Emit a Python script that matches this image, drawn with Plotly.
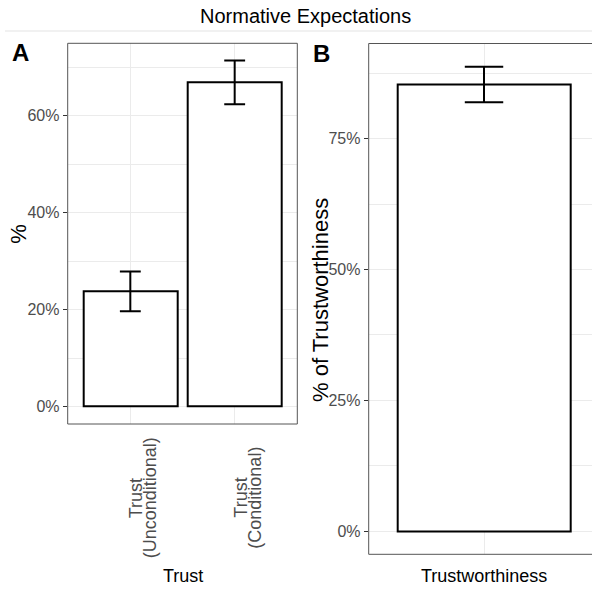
import plotly.graph_objects as go

# Panel A: trust expectations
trust_categories = ["Trust (Unconditional)", "Trust (Conditional)"]
trust_tick_lines = [["Trust", "(Unconditional)"], ["Trust", "(Conditional)"]]
trust_means = [23.8, 66.9]
trust_errors = [4.1, 4.5]
trust_ticks = [0, 20, 40, 60]
trust_minor = [10, 30, 50, 70]

# Panel B: trustworthiness expectations
tw_categories = ["Trustworthiness"]
tw_means = [85.4]
tw_errors = [3.4]
tw_ticks = [0, 25, 50, 75]
tw_minor = [12.5, 37.5, 62.5, 87.5]

W, H = 592, 593
SANS = "Liberation Sans, Arial, sans-serif"
GRID = "#EBEBEB"
BORDER = "#555555"

# panel geometry in pixels
ax_l, ax_r, ax_t, ax_b = 67.7, 297.3, 43.3, 424.0
bx_l, bx_r, bx_t, bx_b = 368.7, 592.0, 43.5, 554.3


def px_x(v):
    return v / W


def px_y(v):
    return 1 - v / H


def y_range(means, errs):
    top = max(m + e for m, e in zip(means, errs))
    return [-0.05 * top, 1.05 * top]


a_xrange = [-0.6, len(trust_categories) - 0.4]
b_unit_px = 192.2
b_xrange = [-0.6, -0.6 + (bx_r - bx_l) / b_unit_px]
a_unit_px = (ax_r - ax_l) / (a_xrange[1] - a_xrange[0])

fig = go.Figure()

fig.add_trace(go.Bar(
    x=trust_categories, y=trust_means, width=0.9,
    marker=dict(color="white", line=dict(color="black", width=2)),
    error_y=dict(type="data", array=trust_errors, color="black",
                 thickness=2, width=0.1 * a_unit_px),
    xaxis="x", yaxis="y", showlegend=False,
))

fig.add_trace(go.Bar(
    x=tw_categories, y=tw_means, width=0.9,
    marker=dict(color="white", line=dict(color="black", width=2)),
    error_y=dict(type="data", array=tw_errors, color="black",
                 thickness=2, width=0.1 * b_unit_px),
    xaxis="x2", yaxis="y2", showlegend=False,
))

tick_font = dict(family=SANS, size=16, color="#4D4D4D")


def yaxis_style(domain, rng, ticks, minor, anchor):
    return dict(
        domain=domain, range=rng, anchor=anchor,
        tickvals=ticks, ticktext=[f"{t}%" for t in ticks],
        ticks="outside", ticklen=4, tickwidth=1, tickcolor="#333333",
        tickfont=tick_font, showgrid=True, gridcolor=GRID, gridwidth=1.3,
        minor=dict(tickvals=minor, showgrid=True, gridcolor=GRID,
                   gridwidth=0.7, ticks=""),
        zeroline=False, showline=False, fixedrange=True,
    )


def xaxis_style(domain, rng, anchor):
    return dict(
        domain=domain, range=rng, anchor=anchor, type="category",
        showticklabels=False, ticks="", showgrid=True, gridcolor=GRID,
        gridwidth=1.3, zeroline=False, showline=False, fixedrange=True,
    )


fig.update_layout(
    width=W, height=H,
    margin=dict(l=0, r=0, t=0, b=0),
    paper_bgcolor="white", plot_bgcolor="white",
    bargap=0,
    xaxis=xaxis_style([px_x(ax_l), px_x(ax_r)], a_xrange, "y"),
    yaxis=yaxis_style([px_y(ax_b), px_y(ax_t)],
                      y_range(trust_means, trust_errors),
                      trust_ticks, trust_minor, "x"),
    xaxis2=xaxis_style([px_x(bx_l), px_x(bx_r)], b_xrange, "y2"),
    yaxis2=yaxis_style([px_y(bx_b), px_y(bx_t)],
                       y_range(tw_means, tw_errors),
                       tw_ticks, tw_minor, "x2"),
)

shapes = [
    # separator line under the title
    dict(type="line", xref="paper", yref="paper",
         x0=px_x(5), x1=1, y0=px_y(31), y1=px_y(31),
         line=dict(color="#E3E3E3", width=1)),
    # panel A border
    dict(type="rect", xref="paper", yref="paper",
         x0=px_x(ax_l), x1=px_x(ax_r), y0=px_y(ax_b), y1=px_y(ax_t),
         line=dict(color=BORDER, width=1)),
    # panel B border (left, top, bottom)
    dict(type="path", xref="paper", yref="paper",
         path=(f"M {px_x(bx_r + 2)},{px_y(bx_t)} L {px_x(bx_l)},{px_y(bx_t)} "
               f"L {px_x(bx_l)},{px_y(bx_b)} L {px_x(bx_r + 2)},{px_y(bx_b)}"),
         line=dict(color=BORDER, width=1)),
]
fig.update_layout(shapes=shapes)

annotations = [
    dict(text="Normative Expectations", x=px_x(305), y=px_y(16),
         xref="paper", yref="paper", showarrow=False,
         xanchor="center", yanchor="middle",
         font=dict(family=SANS, size=20, color="black")),
    dict(text="<b>A</b>", x=px_x(20.5), y=px_y(53), xref="paper", yref="paper",
         showarrow=False, xanchor="center", yanchor="middle",
         font=dict(family=SANS, size=24, color="black")),
    dict(text="<b>B</b>", x=px_x(321), y=px_y(54), xref="paper", yref="paper",
         showarrow=False, xanchor="center", yanchor="middle",
         font=dict(family=SANS, size=24, color="black")),
    # axis titles
    dict(text="%", x=px_x(19), y=px_y((ax_t + ax_b) / 2), xref="paper",
         yref="paper", showarrow=False, textangle=-90,
         xanchor="center", yanchor="middle",
         font=dict(family=SANS, size=22, color="black")),
    dict(text="% of Trustworthiness", x=px_x(320), y=px_y(300),
         xref="paper", yref="paper", showarrow=False, textangle=-90,
         xanchor="center", yanchor="middle",
         font=dict(family=SANS, size=22, color="black")),
    dict(text="Trust", x=px_x((ax_l + ax_r) / 2), y=px_y(576),
         xref="paper", yref="paper", showarrow=False,
         xanchor="center", yanchor="middle",
         font=dict(family=SANS, size=18, color="black")),
    dict(text="Trustworthiness", x=px_x(483.5), y=px_y(576),
         xref="paper", yref="paper", showarrow=False,
         xanchor="center", yanchor="middle",
         font=dict(family=SANS, size=18, color="black")),
]

# rotated category labels for panel A, one annotation per line
line_shifts = [6, 20]
for cat, lines in zip(trust_categories, trust_tick_lines):
    for shift, line in zip(line_shifts, lines):
        annotations.append(dict(
            text=line, x=cat, xref="x", y=px_y(498), yref="paper",
            showarrow=False, textangle=-90, xshift=shift,
            xanchor="center", yanchor="middle",
            font=dict(family=SANS, size=18, color="#4D4D4D"),
        ))

fig.update_layout(annotations=annotations)

fig.write_html("out.html")
